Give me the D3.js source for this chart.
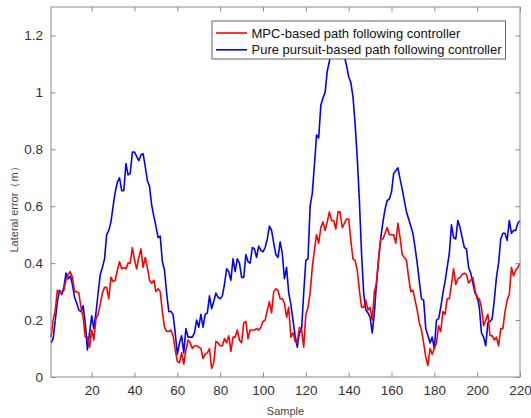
<!DOCTYPE html>
<html>
<head>
<meta charset="utf-8">
<script src="https://cdn.jsdelivr.net/npm/d3@7"></script>
<style>
  html, body { margin: 0; padding: 0; background: #fff; }
  svg { display: block; }
</style>
</head>
<body>
<svg id="chart" width="531" height="418"></svg>
<script>
// ---- data ----
const seriesNames = ["MPC-based path following controller", "Pure pursuit-based path following controller"];
const xTicks = [20, 40, 60, 80, 100, 120, 140, 160, 180, 200, 220];
const yTicks = [0, 0.2, 0.4, 0.6, 0.8, 1, 1.2];
const yTickLabels = ["0", "0.2", "0.4", "0.6", "0.8", "1", "1.2"];

const mpcError = [
0.14,0.2,0.235,0.305,0.3,0.295,0.305,0.34,0.36,0.37,
0.35,0.3,0.3,0.295,0.245,0.21,0.14,0.14,0.105,0.165,
0.13,0.205,0.22,0.255,0.295,0.315,0.315,0.275,0.35,0.335,
0.34,0.375,0.405,0.38,0.385,0.38,0.4,0.4,0.455,0.41,
0.38,0.42,0.45,0.385,0.42,0.385,0.34,0.33,0.34,0.3,
0.31,0.3,0.23,0.175,0.16,0.16,0.165,0.145,0.095,0.055,
0.05,0.085,0.045,0.095,0.13,0.12,0.1,0.11,0.11,0.105,
0.1,0.065,0.08,0.085,0.1,0.03,0.05,0.125,0.12,0.11,
0.11,0.135,0.12,0.145,0.09,0.14,0.14,0.165,0.13,0.12,
0.19,0.195,0.135,0.165,0.165,0.165,0.17,0.165,0.175,0.195,
0.2,0.235,0.265,0.225,0.3,0.31,0.305,0.275,0.275,0.26,
0.21,0.245,0.14,0.155,0.125,0.12,0.175,0.165,0.105,0.22,
0.245,0.295,0.385,0.445,0.5,0.47,0.525,0.545,0.515,0.545,
0.58,0.55,0.55,0.52,0.58,0.58,0.525,0.54,0.555,0.555,
0.48,0.415,0.41,0.375,0.305,0.245,0.245,0.27,0.235,0.245,
0.2,0.3,0.33,0.42,0.485,0.485,0.505,0.525,0.5,0.5,
0.5,0.47,0.54,0.49,0.43,0.42,0.41,0.35,0.3,0.305,
0.27,0.235,0.19,0.165,0.12,0.07,0.04,0.1,0.08,0.1,
0.12,0.18,0.16,0.23,0.22,0.275,0.275,0.325,0.38,0.325,
0.345,0.35,0.36,0.365,0.36,0.33,0.34,0.35,0.305,0.275,
0.275,0.245,0.18,0.2,0.22,0.145,0.145,0.13,0.14,0.11,
0.17,0.17,0.23,0.27,0.29,0.385,0.355,0.375,0.385,0.4
];

const purePursuitError = [
0.12,0.135,0.2,0.265,0.305,0.29,0.315,0.365,0.345,0.355,
0.325,0.28,0.26,0.235,0.23,0.25,0.19,0.095,0.155,0.215,
0.17,0.225,0.295,0.36,0.385,0.415,0.5,0.515,0.545,0.6,
0.65,0.685,0.7,0.655,0.655,0.75,0.71,0.715,0.79,0.79,
0.775,0.76,0.78,0.785,0.74,0.69,0.67,0.605,0.565,0.53,
0.49,0.495,0.405,0.375,0.295,0.23,0.23,0.22,0.155,0.08,
0.12,0.145,0.085,0.17,0.14,0.14,0.14,0.155,0.2,0.175,
0.22,0.175,0.22,0.225,0.285,0.24,0.265,0.295,0.28,0.275,
0.285,0.325,0.38,0.37,0.34,0.415,0.37,0.415,0.4,0.35,
0.35,0.43,0.405,0.4,0.455,0.45,0.42,0.46,0.445,0.44,
0.455,0.485,0.53,0.515,0.47,0.43,0.42,0.475,0.435,0.345,
0.385,0.295,0.255,0.2,0.145,0.105,0.155,0.165,0.295,0.41,
0.415,0.6,0.645,0.745,0.85,0.84,0.955,0.98,1.0,1.075,
1.11,1.16,1.19,1.2,1.2,1.18,1.14,1.125,1.095,1.055,
1.035,0.985,0.89,0.77,0.62,0.435,0.295,0.235,0.225,0.21,
0.155,0.225,0.33,0.415,0.49,0.545,0.59,0.62,0.625,0.65,
0.715,0.725,0.735,0.695,0.66,0.62,0.58,0.555,0.53,0.505,
0.455,0.4,0.335,0.275,0.27,0.17,0.145,0.12,0.14,0.1,
0.2,0.205,0.245,0.295,0.335,0.385,0.435,0.535,0.49,0.485,
0.55,0.525,0.49,0.455,0.45,0.385,0.365,0.33,0.295,0.285,
0.245,0.155,0.14,0.11,0.19,0.195,0.205,0.27,0.35,0.4,
0.485,0.505,0.505,0.48,0.55,0.505,0.515,0.515,0.54,0.55
];

const samples = d3.range(1, mpcError.length + 1);

// ---- layout ----
const svg = d3.select("#chart");
const mLeft = 51, mRight = 520, mTop = 7, mBottom = 377;
const axisColor = "#8a8a8a";
const textColor = "#333333";
const fontFamily = "'Liberation Sans', Arial, Helvetica, sans-serif";

const x = d3.scaleLinear().domain([1, 220]).range([mLeft, mRight]);
const y = d3.scaleLinear().domain([0, 1.3]).range([mBottom, mTop]);

// lines
const line = d3.line().x((d, i) => x(samples[i])).y(d => y(d));
const colors = ["#ff0000", "#0000ff"];
const data = [mpcError, purePursuitError];

const plot = svg.append("g");
[1, 0].forEach(k => {
  plot.append("path")
    .datum(data[k])
    .attr("fill", "none")
    .attr("stroke", colors[k])
    .attr("stroke-width", 1.6)
    .attr("stroke-linejoin", "round")
    .attr("d", line);
});

// axes (inward ticks, box)
const tickLen = 4.5;
const xAxisB = d3.axisBottom(x).tickValues(xTicks).tickSize(-tickLen).tickPadding(8).tickFormat(d3.format("d"));
const xAxisT = d3.axisTop(x).tickValues(xTicks).tickSize(-tickLen).tickFormat("");
const yAxisL = d3.axisLeft(y).tickValues(yTicks).tickSize(-tickLen).tickPadding(8).tickFormat((d, i) => yTickLabels[i]);
const yAxisR = d3.axisRight(y).tickValues(yTicks).tickSize(-tickLen).tickFormat("");

function styleAxis(g) {
  g.select(".domain").remove();
  g.selectAll(".tick line").attr("stroke", axisColor);
  g.selectAll(".tick text").attr("fill", textColor)
    .style("font-family", fontFamily).style("font-size", "13.5px");
}
svg.append("g").attr("transform", `translate(0,${mBottom})`).call(xAxisB).call(styleAxis);
svg.append("g").attr("transform", `translate(0,${mTop})`).call(xAxisT).call(styleAxis);
svg.append("g").attr("transform", `translate(${mLeft},0)`).call(yAxisL).call(styleAxis);
svg.append("g").attr("transform", `translate(${mRight},0)`).call(yAxisR).call(styleAxis);

svg.append("rect")
  .attr("x", mLeft).attr("y", mTop)
  .attr("width", mRight - mLeft).attr("height", mBottom - mTop)
  .attr("fill", "none").attr("stroke", axisColor).attr("stroke-width", 1);

// axis labels
svg.append("text")
  .attr("x", (mLeft + mRight) / 2).attr("y", 415)
  .attr("text-anchor", "middle")
  .attr("fill", "#444")
  .style("font-family", fontFamily).style("font-size", "11px")
  .text("Sample");

svg.append("text")
  .attr("transform", `translate(18,${(mTop + mBottom) / 2 + 15}) rotate(-90)`)
  .attr("text-anchor", "middle")
  .attr("fill", "#444")
  .style("font-family", fontFamily).style("font-size", "11px")
  .text("Lateral error（m）");

// legend
const lg = svg.append("g");
const lx = 212, ly = 21, lw = 293.5, lh = 38;
lg.append("rect").attr("x", lx).attr("y", ly).attr("width", lw).attr("height", lh)
  .attr("fill", "#fff").attr("stroke", "#666").attr("stroke-width", 1);
seriesNames.forEach((name, i) => {
  const cy = ly + 12 + i * 16.8;
  lg.append("line").attr("x1", lx + 4).attr("x2", lx + 35).attr("y1", cy).attr("y2", cy)
    .attr("stroke", colors[i]).attr("stroke-width", 1.6);
  lg.append("text").attr("x", lx + 39.5).attr("y", cy + 4.6)
    .attr("fill", "#111")
    .style("font-family", fontFamily).style("font-size", "13px")
    .text(name);
});
</script>
</body>
</html>
